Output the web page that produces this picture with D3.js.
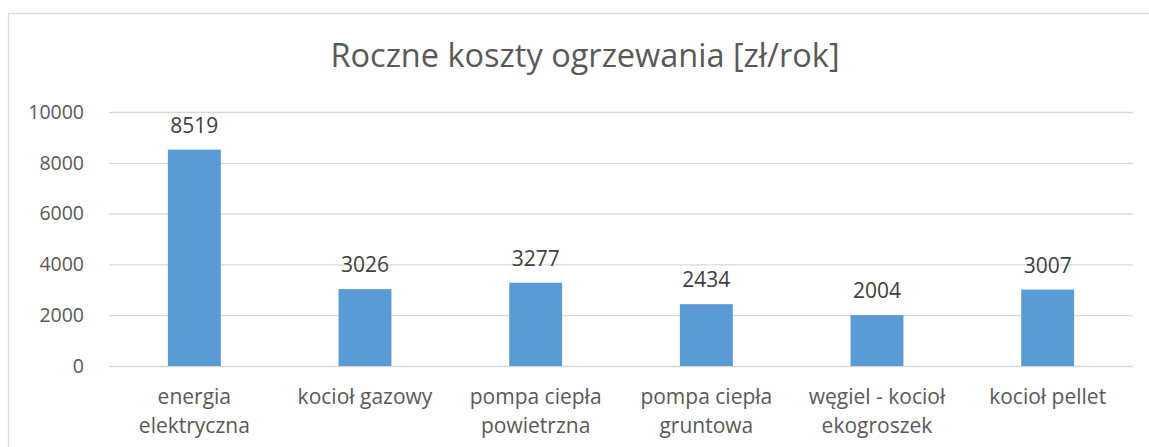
<!DOCTYPE html>
<html>
<head>
<meta charset="utf-8">
<script src="https://cdn.jsdelivr.net/npm/d3@7"></script>
<style>
  body { margin: 0; background: #fff; }
  svg { display: block; font-family: "Open Sans", sans-serif; }
</style>
</head>
<body>
<svg id="svg" width="1149" height="447"></svg>
<script>
// chart data
const categories = [
  ["energia", "elektryczna"],
  ["kocioł gazowy"],
  ["pompa ciepła", "powietrzna"],
  ["pompa ciepła", "gruntowa"],
  ["węgiel - kocioł", "ekogroszek"],
  ["kocioł pellet"]
];
const values = [8519, 3026, 3277, 2434, 2004, 3007];
const yTicks = [0, 2000, 4000, 6000, 8000, 10000];
const title = "Roczne koszty ogrzewania [zł/rok]";

const width = 1149, height = 447;
const margin = {top: 112, right: 16, bottom: 81, left: 109};
const textColor = "#595959";
const gridColor = "#d9d9d9";

const svg = d3.select("#svg");

// outer chart border (cut by the picture on the right and bottom)
svg.append("rect")
  .attr("x", 8.5).attr("y", 13.5)
  .attr("width", 1300).attr("height", 600)
  .attr("fill", "none")
  .attr("stroke", gridColor)
  .attr("stroke-width", 1.3);

svg.append("text")
  .attr("x", 585).attr("y", 67)
  .attr("text-anchor", "middle")
  .attr("fill", textColor)
  .style("font-size", "32.5px")
  .text(title);

const x = d3.scaleBand()
  .domain(d3.range(categories.length))
  .range([margin.left, width - margin.right])
  .padding(0);

const y = d3.scaleLinear()
  .domain([0, 10000])
  .range([height - margin.bottom, margin.top]);

// gridlines + y labels
const yAxis = svg.append("g")
  .attr("transform", "translate(" + margin.left + ",0)")
  .call(d3.axisLeft(y).tickValues(yTicks).tickFormat(d3.format("d"))
    .tickSize(-(width - margin.left - margin.right)).tickPadding(25));
yAxis.select(".domain").remove();
yAxis.selectAll(".tick line")
  .attr("stroke", gridColor)
  .attr("stroke-width", 1.3);
yAxis.selectAll(".tick text")
  .attr("fill", textColor)
  .style("font-size", "19.5px")
  .style("font-family", "Open Sans, sans-serif");

const barW = x.bandwidth() * 0.31;

svg.selectAll(".bar")
  .data(values)
  .enter().append("rect")
  .attr("class", "bar")
  .attr("x", (d, i) => x(i) + (x.bandwidth() - barW) / 2)
  .attr("width", barW)
  .attr("y", d => y(d))
  .attr("height", d => y(0) - y(d))
  .attr("fill", "#5b9bd5");

svg.selectAll(".val")
  .data(values)
  .enter().append("text")
  .attr("class", "val")
  .attr("x", (d, i) => x(i) + x.bandwidth() / 2)
  .attr("y", d => y(d) - 17)
  .attr("text-anchor", "middle")
  .attr("fill", "#404040")
  .style("font-size", "21px")
  .text(d => d);

// category labels, up to two lines
const cat = svg.selectAll(".cat")
  .data(categories)
  .enter().append("text")
  .attr("class", "cat")
  .attr("text-anchor", "middle")
  .attr("fill", textColor)
  .style("font-size", "21px");
cat.selectAll("tspan")
  .data((d, i) => d.map((line, j) => ({line, j, i})))
  .enter().append("tspan")
  .attr("x", d => x(d.i) + x.bandwidth() / 2)
  .attr("y", d => 404 + d.j * 28.5)
  .text(d => d.line);
</script>
</body>
</html>
